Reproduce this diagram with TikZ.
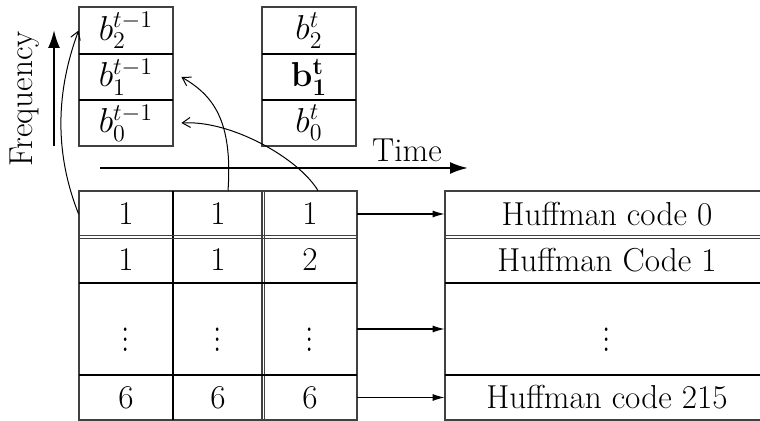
\documentclass[tikz,border=0pt]{standalone}
\usetikzlibrary{arrows.meta}
\newcommand\figfs{\fontsize{16.6}{19}\selectfont}
\newcommand\tallvdots{\scalebox{1}[1.3]{$\vdots$}}
\begin{document}
\begin{tikzpicture}[x=0.5pt,y=-0.5pt,
  thinln/.style={line width=0.55pt, draw=black!75},
  thickln/.style={line width=1.1pt, draw=black},
  cell/.style={inner sep=0pt, font=\figfs, minimum width=47pt, minimum height=23pt},
  tcell/.style={cell, minimum height=23pt},
  hcell/.style={cell, minimum width=162pt},
  conn/.style={line width=0.55pt, -{Latex[length=6pt,width=3.5pt]}},
  axis/.style={line width=1.1pt, -{Latex[length=9pt,width=6pt]}},
  curvearrow/.style={line width=0.5pt, -{Straight Barb[length=4pt,width=5pt]}},
  lbl/.style={font=\figfs, inner sep=0pt}]
\useasboundingbox (0,0) rectangle (760,421);

% ---- previous-time stack
\node[cell] (a2) at (126,30.5) {$b_2^{t-1}$};
\node[cell] (a1) at (126,77)   {$b_1^{t-1}$};
\node[cell] (a0) at (126,123)  {$b_0^{t-1}$};
\draw[thinln] (79,7) rectangle (173,146);
\draw[thickln] (79,54) -- (173,54) (79,100) -- (173,100);

% ---- current-time stack
\node[cell] (c2) at (309,30.5) {$b_2^{t}$};
\node[cell] (c1) at (309,77)   {$\mathbf{b_1^t}$};
\node[cell] (c0) at (309,123)  {$b_0^{t}$};
\draw[thinln] (262,7) rectangle (356,146);
\draw[thickln] (262,54) -- (356,54) (262,100) -- (356,100);

% ---- axes
\coordinate (fb) at (54,146);
\coordinate (ft) at (54,30);
\draw[axis] (fb) -- (ft);
\node[lbl, rotate=90] (freq) at (25,99) {Frequency};
\coordinate (tb) at (100,168);
\coordinate (te) at (468,168);
\draw[axis] (tb) -- (te);
\node[lbl] (time) at (407,150) {Time};

% ---- left table
\node[tcell] (r1c1) at (126,214) {1};
\node[tcell, minimum width=45pt] (r1c2) at (218,214) {1};
\node[tcell] (r1c3) at (310,214) {1};
\node[tcell] (r2c1) at (126,260) {1};
\node[tcell, minimum width=45pt] (r2c2) at (218,260) {1};
\node[tcell] (r2c3) at (310,260) {2};
\node[tcell, minimum height=46pt] (r3c1) at (126,329) {};
\node[tcell, minimum width=45pt, minimum height=46pt] (r3c2) at (218,329) {};
\node[tcell, minimum height=46pt] (r3c3) at (310,329) {};
\node[lbl, font=\figfs] (d1) at (126,332) {\tallvdots};
\node[lbl, font=\figfs] (d2) at (218,332) {\tallvdots};
\node[lbl, font=\figfs] (d3) at (310,332) {\tallvdots};
\node[tcell] (r4c1) at (126,397.5) {6};
\node[tcell, minimum width=45pt] (r4c2) at (218,397.5) {6};
\node[tcell] (r4c3) at (310,397.5) {6};
\draw[thinln] (79,191) rectangle (357,420);
\draw[thickln] (173,191) -- (173,420);
\draw[thinln] (262,191) -- (262,420) (264.5,191) -- (264.5,420);
\draw[thinln] (79,235.5) -- (357,235.5) (79,238.5) -- (357,238.5);
\draw[thickln] (79,283) -- (357,283) (79,375) -- (357,375);

% ---- right table
\node[hcell] (h0) at (607,214) {Huffman code 0};
\node[hcell] (h1) at (607,260) {Huffman Code 1};
\node[hcell, minimum height=46pt] (hd) at (607,329) {};
\node[lbl, font=\figfs] (d4) at (607,332) {\tallvdots};
\node[hcell] (h215) at (607,397.5) {Huffman code 215};
\draw[thinln] (775,191) -- (445,191) -- (445,420) -- (775,420);
\draw[thinln] (445,235.5) -- (775,235.5) (445,238.5) -- (775,238.5);
\draw[thickln] (445,283) -- (775,283) (445,375) -- (775,375);

% ---- connectors
\draw[conn] (r1c3.east) -- (h0.west);
\draw[conn] (r3c3.east) -- (hd.west);
\draw[conn] (r4c3.east) -- (h215.west);

\draw[curvearrow] (r1c1.west) .. controls +(-25,-63) and +(-22,59.5) .. (a2.west);
\draw[curvearrow] ([xshift=5pt]r1c2.north) .. controls +(5,-71) and +(31,18) .. ([xshift=4pt]a1.east);
\draw[curvearrow] ([xshift=4pt]r1c3.north) .. controls +(-20,-33) and +(49,-3) .. ([xshift=4pt]a0.east);
\end{tikzpicture}
\end{document}
